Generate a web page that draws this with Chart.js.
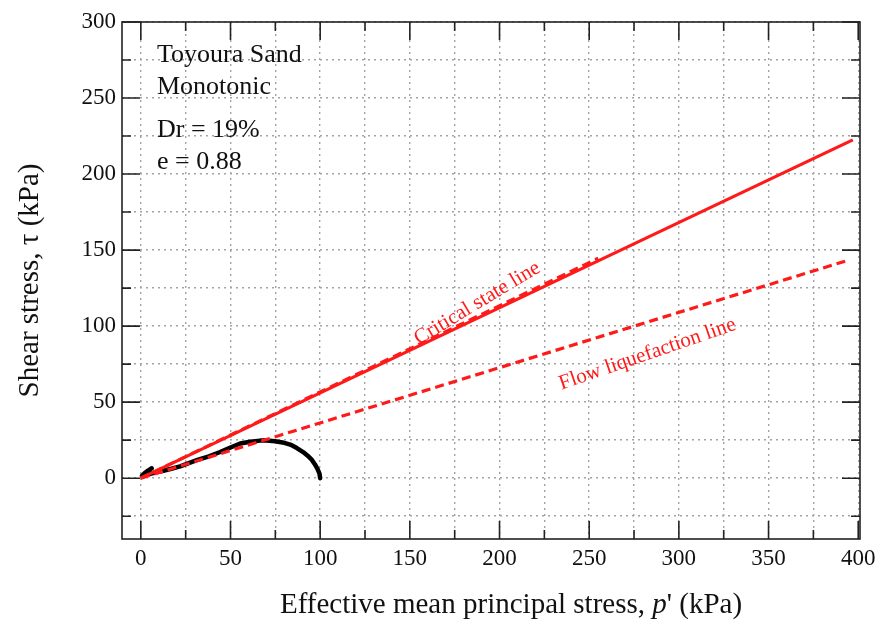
<!DOCTYPE html>
<html>
<head>
<meta charset="utf-8">
<script src="https://cdn.jsdelivr.net/npm/chart.js@4.4.1/dist/chart.umd.min.js"></script>
<style>
  html, body { margin: 0; padding: 0; background: #fff; }
  #wrap { width: 883px; height: 625px; }
</style>
</head>
<body>
<div id="wrap"><canvas id="stressChart"></canvas></div>
<script>
// axis ranges and tick positions (kPa)
const xRange = [-10.5, 401];
const yRange = [-40, 300];
const xTicks = [0, 25, 50, 75, 100, 125, 150, 175, 200, 225, 250, 275, 300, 325, 350, 375, 400];
const yTicks = [-25, 0, 25, 50, 75, 100, 125, 150, 175, 200, 225, 250, 275, 300];

// critical state line, its dashed fit, and the flow liquefaction line
const cslP = [0, 397];
const cslTau = [0, 222.5];
const cslFitP = [0, 255];
const cslFitTau = [0, 144.6];
const fllP = [0, 394.6];
const fllTau = [0, 143.4];

// undrained monotonic stress path
const pathP = [100, 99.6, 98.5, 97, 95.4, 93, 90.7, 87, 83.3, 79, 74.9, 70, 66.6, 61, 55.4, 50, 44.2, 38, 31.2, 26, 21.9, 17, 12.6, 8.5, 5.2, 2.5, 1.0, 0.6, 2.0, 4.0, 6.1];
const pathTau = [0, 3, 6.1, 9.2, 12, 14.8, 17, 19.8, 22.1, 23.5, 24.3, 24.7, 24.7, 24, 22.8, 20.2, 17.2, 14.4, 11.8, 9.6, 7.8, 6.2, 4.9, 3.8, 2.8, 1.8, 1.2, 1.6, 3.2, 5.0, 6.5];

const sampleNotes = ["Toyoura Sand", "Monotonic", "Dr = 19%", "e = 0.88"];

const toXY = (xs, ys) => xs.map((x, i) => ({ x: x, y: ys[i] }));

const serif = "'Liberation Serif', 'Times New Roman', serif";
const red = "#ff1a1a";

// frame, inward ticks, text labels
const framePlugin = {
  id: "framePlugin",
  afterDraw(chart) {
    const { ctx, chartArea: a, scales } = chart;
    const xs = scales.x, ys = scales.y;
    ctx.save();
    ctx.strokeStyle = "#222";
    ctx.lineWidth = 1.6;
    ctx.strokeRect(a.left, a.top, a.right - a.left, a.bottom - a.top);

    ctx.beginPath();
    xTicks.forEach((v) => {
      const px = xs.getPixelForValue(v);
      const len = v % 50 === 0 ? 18 : 9;
      ctx.moveTo(px, a.bottom); ctx.lineTo(px, a.bottom - len);
      ctx.moveTo(px, a.top); ctx.lineTo(px, a.top + len);
    });
    yTicks.forEach((v) => {
      const py = ys.getPixelForValue(v);
      const len = v % 50 === 0 ? 18 : 9;
      ctx.moveTo(a.left, py); ctx.lineTo(a.left + len, py);
      ctx.moveTo(a.right, py); ctx.lineTo(a.right - len, py);
    });
    ctx.stroke();

    // sample description
    ctx.fillStyle = "#111";
    ctx.font = "26px " + serif;
    ctx.textAlign = "left";
    ctx.textBaseline = "alphabetic";
    const lineY = [62, 94, 137, 169];
    sampleNotes.forEach((t, i) => ctx.fillText(t, a.left + 35, lineY[i]));

    // line labels
    ctx.fillStyle = red;
    ctx.font = "21px " + serif;
    ctx.textAlign = "center";
    ctx.textBaseline = "middle";
    const labels = [
      { text: "Critical state line", p: 187.6, tau: 115, angle: -31 },
      { text: "Flow liquefaction line", p: 282.5, tau: 81.5, angle: -19 }
    ];
    labels.forEach((l) => {
      ctx.save();
      ctx.translate(xs.getPixelForValue(l.p), ys.getPixelForValue(l.tau));
      ctx.rotate(l.angle * Math.PI / 180);
      ctx.fillText(l.text, 0, 0);
      ctx.restore();
    });

    // x axis title with italic p'
    ctx.fillStyle = "#111";
    ctx.textBaseline = "alphabetic";
    ctx.textAlign = "left";
    const parts = [
      ["Effective mean principal stress, ", "29px " + serif],
      ["p", "italic 29px " + serif],
      ["' (kPa)", "29px " + serif]
    ];
    let total = 0;
    parts.forEach((p) => { ctx.font = p[1]; total += ctx.measureText(p[0]).width; });
    let tx = (a.left + a.right) / 2 + 20 - total / 2;
    parts.forEach((p) => {
      ctx.font = p[1];
      ctx.fillText(p[0], tx, 613);
      tx += ctx.measureText(p[0]).width;
    });
    ctx.restore();
  }
};

const data = {
  datasets: [
    {
      label: "Stress path",
      data: toXY(pathP, pathTau),
      borderColor: "#000",
      backgroundColor: "#000",
      borderWidth: 4.5,
      pointRadius: 0,
      borderJoinStyle: "round",
      borderCapStyle: "round",
      order: 3
    },
    {
      label: "Critical state line",
      data: toXY(cslP, cslTau),
      borderColor: red,
      borderWidth: 3.2,
      pointRadius: 0,
      order: 2
    },
    {
      label: "Critical state fit",
      data: toXY(cslFitP, cslFitTau),
      borderColor: red,
      borderWidth: 3.2,
      borderDash: [9, 5],
      pointRadius: 0,
      order: 1
    },
    {
      label: "Flow liquefaction line",
      data: toXY(fllP, fllTau),
      borderColor: red,
      borderWidth: 3.2,
      borderDash: [9, 5],
      pointRadius: 0,
      order: 1
    }
  ]
};

const tickFont = { family: serif, size: 23 };

const config = {
  type: "line",
  data: data,
  options: {
    animation: false,
    responsive: true,
    maintainAspectRatio: false,
    layout: { padding: { left: 0, top: 22, right: 23, bottom: 0 } },
    plugins: { legend: { display: false }, tooltip: { enabled: false } },
    scales: {
      x: {
        type: "linear",
        min: xRange[0],
        max: xRange[1],
        afterBuildTicks: (s) => { s.ticks = xTicks.map((v) => ({ value: v })); },
        afterFit: (s) => { s.height = 86; },
        ticks: {
          font: tickFont,
          color: "#111",
          padding: 6,
          maxRotation: 0,
          autoSkip: false,
          callback: (v) => (v % 50 === 0 ? v : "")
        },
        grid: { color: "#a3a3a3", lineWidth: 1.4, drawTicks: false },
        border: { display: false, dash: [2, 4] }
      },
      y: {
        min: yRange[0],
        max: yRange[1],
        afterBuildTicks: (s) => { s.ticks = yTicks.map((v) => ({ value: v })); },
        afterFit: (s) => { s.width = 122; },
        ticks: {
          font: tickFont,
          color: "#111",
          padding: 6,
          autoSkip: false,
          callback: (v) => (v % 50 === 0 ? v : "")
        },
        grid: { color: "#a3a3a3", lineWidth: 1.4, drawTicks: false },
        border: { display: false, dash: [2, 4] },
        title: {
          display: true,
          text: "Shear stress, τ (kPa)",
          font: { family: serif, size: 29 },
          color: "#111",
          padding: { top: 13, bottom: 0 }
        }
      }
    }
  },
  plugins: [framePlugin]
};

new Chart(document.getElementById("stressChart").getContext("2d"), config);
</script>
</body>
</html>
